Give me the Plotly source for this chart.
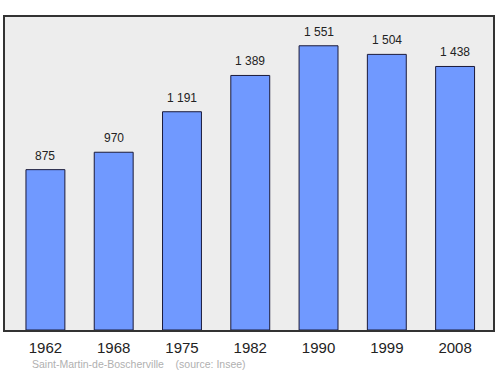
import plotly.graph_objects as go

years = ["1962", "1968", "1975", "1982", "1990", "1999", "2008"]
population = [875, 970, 1191, 1389, 1551, 1504, 1438]
source_text = "Saint-Martin-de-Boscherville    (source: Insee)"

labels = [f"{v:,}".replace(",", " ") for v in population]
xs = list(range(len(years)))

fig = go.Figure()
fig.add_trace(go.Bar(
    x=xs, y=population, width=0.57,
    marker=dict(color="#7099ff", line=dict(color="#1a1a3a", width=1)),
    hoverinfo="skip",
))
for x, v, t in zip(xs, population, labels):
    fig.add_annotation(x=x, y=v, text=t, showarrow=False, yshift=14,
                       font=dict(family="Liberation Sans, Arial", size=12, color="#222"))
fig.add_annotation(xref="paper", yref="paper", x=0.051, y=-0.11, xanchor="left",
                   yanchor="middle", text=source_text, showarrow=False,
                   font=dict(family="Liberation Sans, Arial", size=10.5, color="#b0b0b0"))

fig.update_layout(
    width=500, height=374, margin=dict(l=5, r=7, t=17, b=44),
    paper_bgcolor="white", plot_bgcolor="#ededed", showlegend=False,
    xaxis=dict(range=[-0.592, 6.555], tickmode="array", tickvals=xs, ticktext=years,
               showline=True, mirror=True, linecolor="#333", linewidth=1.5,
               showgrid=False, zeroline=False, ticks="outside", ticklen=3, tickcolor="rgba(0,0,0,0)",
               tickfont=dict(family="Liberation Sans, Arial", size=15, color="#222"), fixedrange=True),
    yaxis=dict(range=[0, 1708], showline=True, mirror=True, linecolor="#333", linewidth=1.5,
               showgrid=False, zeroline=False, showticklabels=False, ticks="", fixedrange=True),
)
fig.write_html("out.html")
